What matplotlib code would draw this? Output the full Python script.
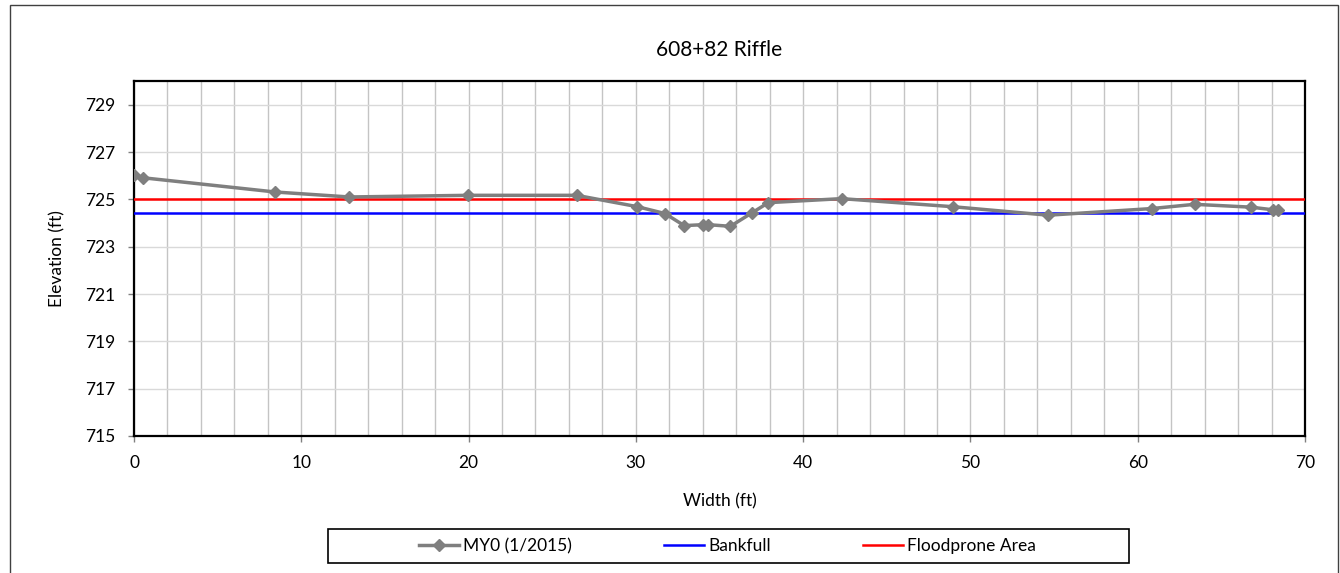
import matplotlib
matplotlib.use("Agg")
import matplotlib.pyplot as plt
from matplotlib.patches import Rectangle
from matplotlib.ticker import MultipleLocator

plt.rcParams['font.family'] = ['Lato', 'DejaVu Sans']

# Cross-section survey, MY0 (1/2015)
width_ft = [0.0, 0.56, 8.45, 12.87, 19.98, 26.46, 30.09, 31.74, 32.89, 34.03,
            34.33, 35.65, 36.94, 37.92, 42.30, 48.93, 54.65, 60.83, 63.40,
            66.77, 68.06, 68.40]
elev_ft = [726.03, 725.91, 725.31, 725.10, 725.17, 725.17, 724.69, 724.40,
           723.89, 723.93, 723.93, 723.86, 724.43, 724.86, 725.03, 724.69,
           724.33, 724.61, 724.79, 724.67, 724.56, 724.57]
bankfull_elev = 724.44
floodprone_elev = 725.0

title = "608+82 Riffle"
series_label = "MY0 (1/2015)"

fs = 12.5

fig = plt.figure(figsize=(13.4, 5.73), dpi=100)
ax = fig.add_axes([0.1, 0.2391, 0.8739, 0.6195])

ax.set_xlim(0, 70)
ax.set_ylim(715, 730)
ax.xaxis.set_major_locator(MultipleLocator(10))
ax.xaxis.set_minor_locator(MultipleLocator(2))
ax.set_yticks(range(715, 730, 2))

ax.grid(which='minor', axis='x', color='#c4c4c4', lw=1)
ax.grid(which='major', axis='x', color='#c4c4c4', lw=1)
ax.grid(which='major', axis='y', color='#d9d9d9', lw=1)
ax.set_axisbelow(True)

ax.plot(width_ft, elev_ft, color='#7f7f7f', lw=2.5, marker='D', ms=6.5,
        label=series_label, zorder=4)
ax.axhline(bankfull_elev, color='#0000ff', lw=1.8, label='Bankfull', zorder=3)
ax.axhline(floodprone_elev, color='#ff0000', lw=1.8, label='Floodprone Area', zorder=3)

for s in ax.spines.values():
    s.set_color('black')
    s.set_linewidth(1.6)

ax.tick_params(which='major', direction='out', length=4.5, width=1,
               color='#808080', labelsize=fs, pad=9)
ax.tick_params(which='minor', length=0)

ax.set_xlabel("Width (ft)", fontsize=fs, labelpad=16)
ax.set_ylabel("Elevation (ft)", fontsize=fs, labelpad=14)
ax.set_title(title, fontsize=15, pad=18)

leg = fig.legend(loc='center left', bbox_to_anchor=(419 / 1340, 1 - 546 / 573), ncol=3,
                 fontsize=fs, frameon=False, borderpad=0, borderaxespad=0,
                 handlelength=2.3, columnspacing=5.3, handletextpad=0.25)

# legend box and chart border
fig.patches.append(Rectangle((328 / 1340, 1 - 563 / 573), 801 / 1340, 34 / 573,
                             transform=fig.transFigure, fill=False,
                             edgecolor='black', lw=1.2))
fig.patches.append(Rectangle((10 / 1340, -0.01), 1328 / 1340, 1.0 - 5 / 573 + 0.01,
                             transform=fig.transFigure, fill=False,
                             edgecolor='#404040', lw=1))

fig.savefig('out.png', dpi=100)
